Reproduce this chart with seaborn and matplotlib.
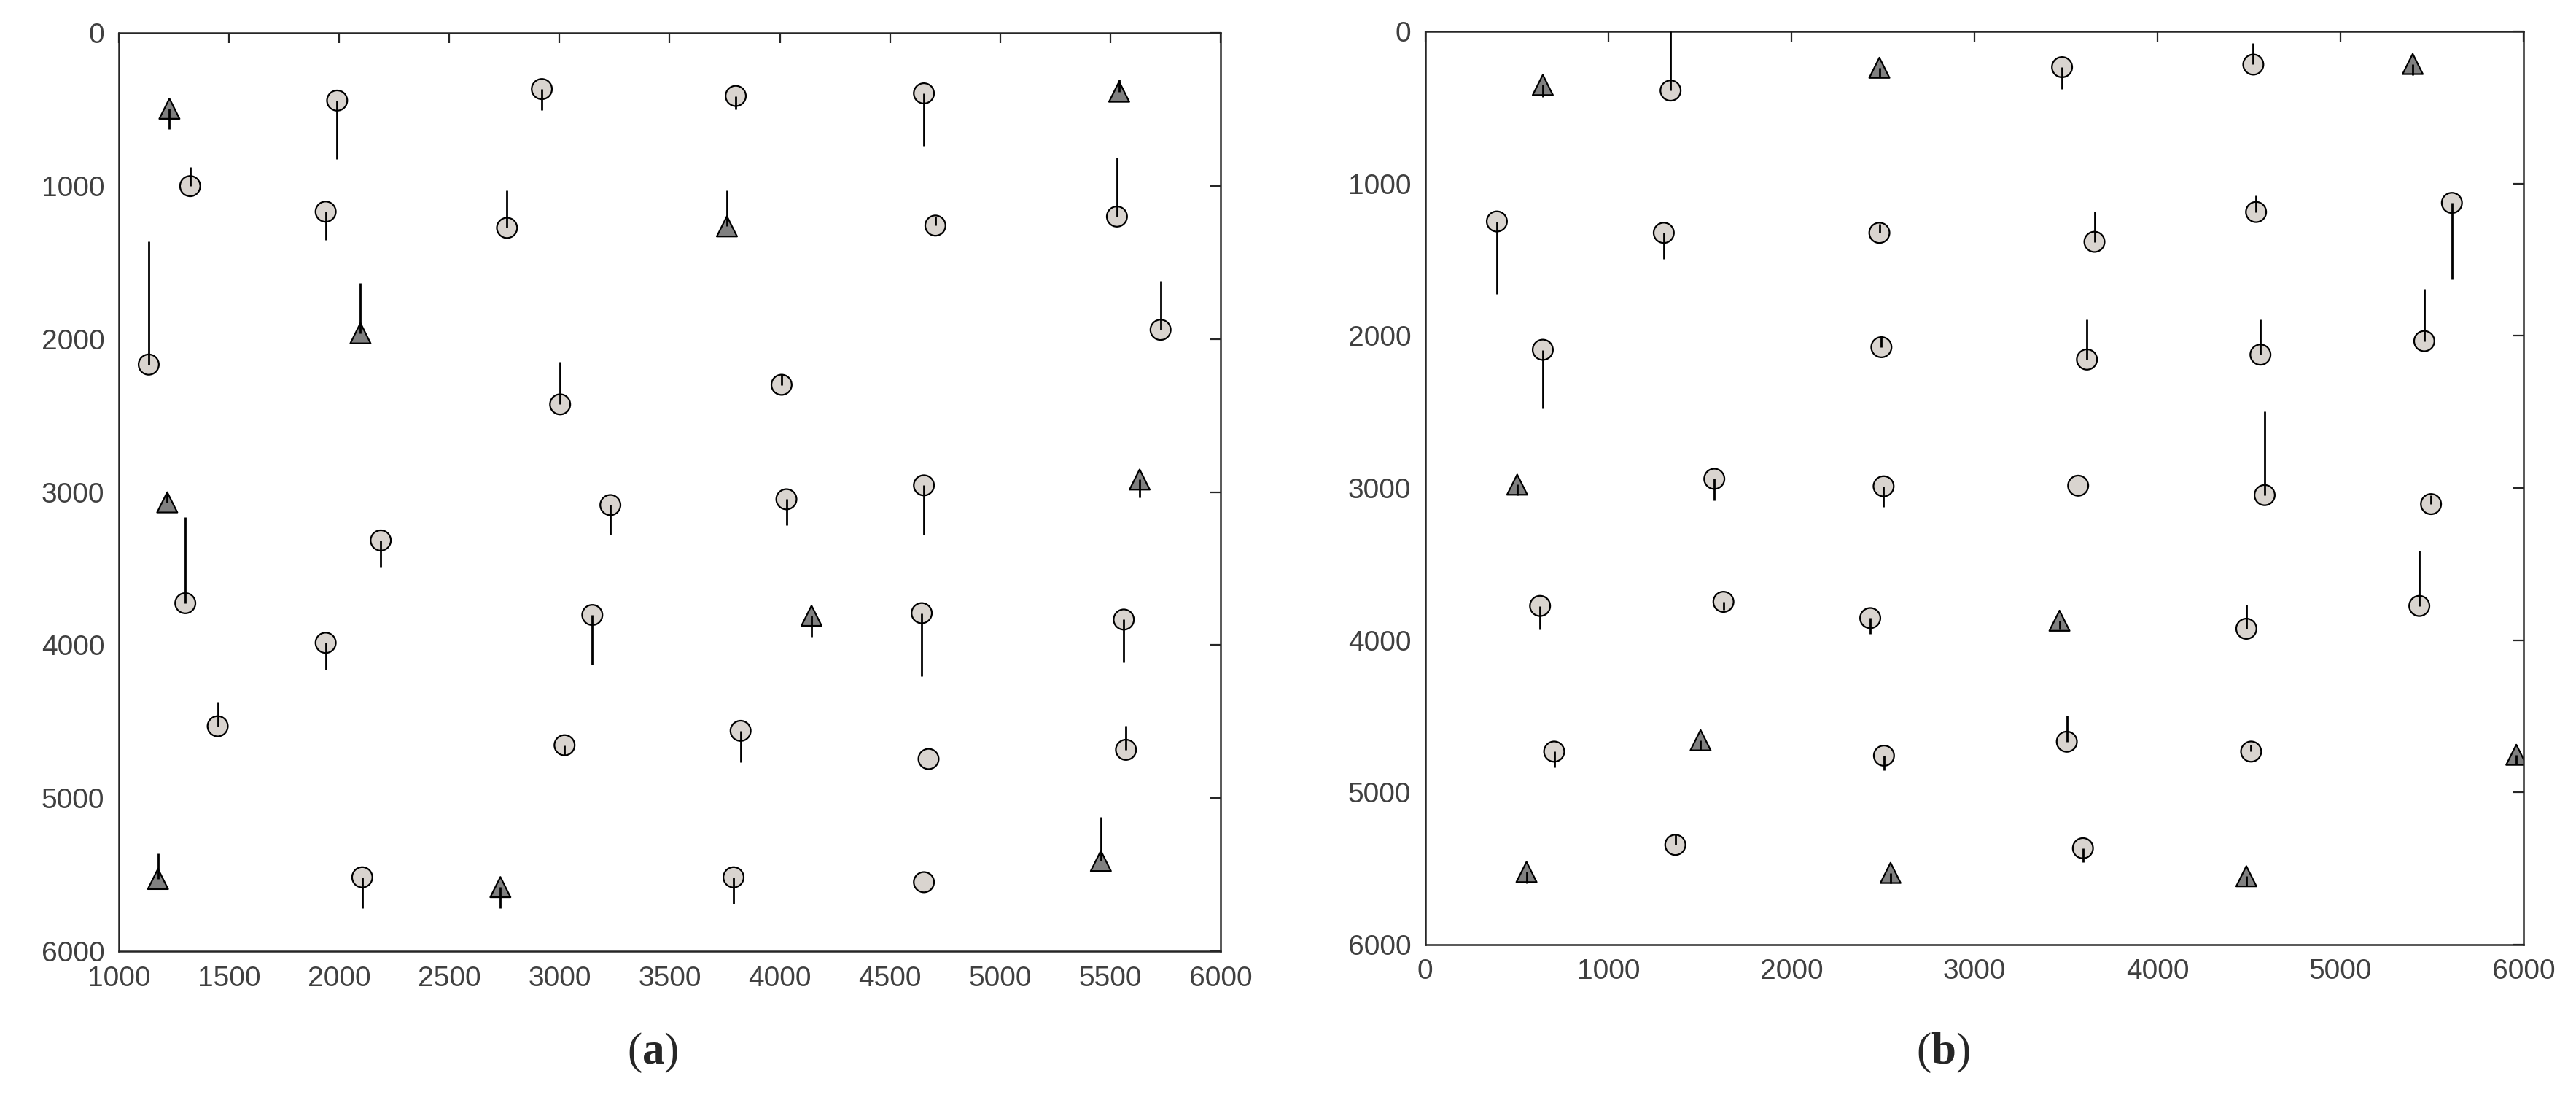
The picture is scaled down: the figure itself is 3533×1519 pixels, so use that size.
import pandas as pd
import matplotlib.pyplot as plt
import seaborn as sns

# panel (a): marker position, end of the displacement stem, marker kind
a_x = [1230, 1324, 1991, 2920, 1939, 2762, 1136, 2097, 3003, 1220,
       3231, 1302, 2189, 1939, 1449, 3149, 3023, 1178, 2105, 2732,
       3800, 4654, 5540, 3760, 4706, 5530, 5728, 4008, 4030, 4654,
       5633, 4144, 4644, 5561, 3822, 4675, 5571, 3790, 4654, 5457]
a_y = [495, 1001, 442, 367, 1168, 1274, 2167, 1962, 2427, 3067,
       3085, 3726, 3316, 3985, 4530, 3803, 4654, 5528, 5517, 5581,
       412, 395, 384, 1264, 1259, 1200, 1940, 2299, 3047, 2956,
       2918, 3808, 3791, 3833, 4560, 4744, 4684, 5517, 5549, 5410]
a_end = [628, 875, 826, 506, 1355, 1029, 1364, 1633, 2149, 3000,
         3278, 3162, 3491, 4160, 4376, 4128, 4716, 5363, 5720, 5720,
         502, 736, 303, 1029, 1200, 815, 1620, 2230, 3216, 3278,
         3037, 3947, 4203, 4113, 4765, 4744, 4528, 5688, 5549, 5122]
a_kind = ["t", "c", "c", "c", "c", "c", "c", "t", "c", "t",
          "c", "c", "c", "c", "c", "c", "c", "t", "c", "t",
          "c", "c", "t", "t", "c", "c", "c", "c", "c", "c",
          "t", "t", "c", "c", "c", "c", "c", "c", "c", "t"]

# panel (b)
b_x = [642, 1340, 2481, 391, 1303, 2481, 642, 2492, 502, 1579,
       2504, 3479, 4524, 5395, 3656, 4539, 5609, 3615, 4563, 5458,
       3567, 4586, 5495, 627, 1629, 2431, 704, 1504, 2506, 1366,
       553, 2542, 3465, 4486, 5431, 3505, 4512, 5961, 3593, 4486]
b_y = [352, 389, 239, 1249, 1324, 1324, 2092, 2075, 2978, 2940,
       2989, 235, 218, 214, 1383, 1187, 1127, 2156, 2124, 2035,
       2985, 3047, 3106, 3775, 3748, 3855, 4732, 4657, 4759, 5345,
       5523, 5529, 3872, 3925, 3775, 4667, 4732, 4753, 5367, 5551]
b_end = [430, 0, 300, 1725, 1494, 1264, 2477, 2003, 3050, 3081,
         3124, 378, 79, 288, 1185, 1078, 1629, 1894, 1894, 1693,
         2985, 2498, 3047, 3929, 3801, 3961, 4838, 4720, 4856, 5273,
         5598, 5600, 3930, 3769, 3410, 4496, 4689, 4810, 5459, 5610]
b_kind = ["t", "c", "t", "c", "c", "c", "c", "c", "t", "c",
          "c", "c", "c", "t", "c", "c", "c", "c", "c", "c",
          "c", "c", "c", "c", "c", "c", "c", "t", "c", "c",
          "t", "t", "t", "c", "c", "c", "c", "t", "c", "t"]

sns.set_style("white")
plt.rcParams["font.family"] = ["Liberation Sans", "DejaVu Sans"]
plt.rcParams["mathtext.fontset"] = "custom"
plt.rcParams["mathtext.rm"] = "Liberation Serif"
plt.rcParams["mathtext.bf"] = "Liberation Serif:bold"

markers = {"c": "o", "t": "^"}
colors = {"c": "#d9d4cf", "t": "#808080"}

fig = plt.figure(figsize=(17.665, 7.595), dpi=200)
ax_a = fig.add_axes([0.0461, 0.1415, 0.4277, 0.8288])
ax_b = fig.add_axes([0.5533, 0.1475, 0.4263, 0.8242])

panels = [
    (ax_a, a_x, a_y, a_end, a_kind, (1000, 6000), range(1000, 6001, 500)),
    (ax_b, b_x, b_y, b_end, b_kind, (0, 6000), range(0, 6001, 1000)),
]

for ax, xs, ys, ends, kinds, xlim, xticks in panels:
    df = pd.DataFrame({"x": xs, "y": ys, "end": ends, "kind": kinds})
    sns.scatterplot(
        data=df, x="x", y="y", hue="kind", style="kind",
        markers=markers, palette=colors, s=100,
        edgecolor="black", linewidth=0.8, legend=False, ax=ax, zorder=2,
    )
    # displacement stems drawn over the markers
    ax.vlines(df["x"], df["y"], df["end"], colors="black", linewidth=1.0, zorder=3)

    ax.set_xlim(*xlim)
    ax.set_ylim(6000, 0)
    ax.set_xticks(list(xticks))
    ax.set_yticks(range(0, 6001, 1000))
    ax.set_xlabel("")
    ax.set_ylabel("")
    ax.grid(False)
    ax.tick_params(direction="in", top=True, right=True, length=5, width=0.8,
                   pad=7, labelsize=14, labelcolor="#404040", color="#262626")
    for sp in ax.spines.values():
        sp.set_visible(True)
        sp.set_color("#262626")
        sp.set_linewidth(0.9)

fig.text(0.2535, 0.05, r"$(\mathbf{a})$", ha="center", va="center", fontsize=22)
fig.text(0.7543, 0.05, r"$(\mathbf{b})$", ha="center", va="center", fontsize=22)

fig.savefig("out.png", dpi=200, facecolor="white")
